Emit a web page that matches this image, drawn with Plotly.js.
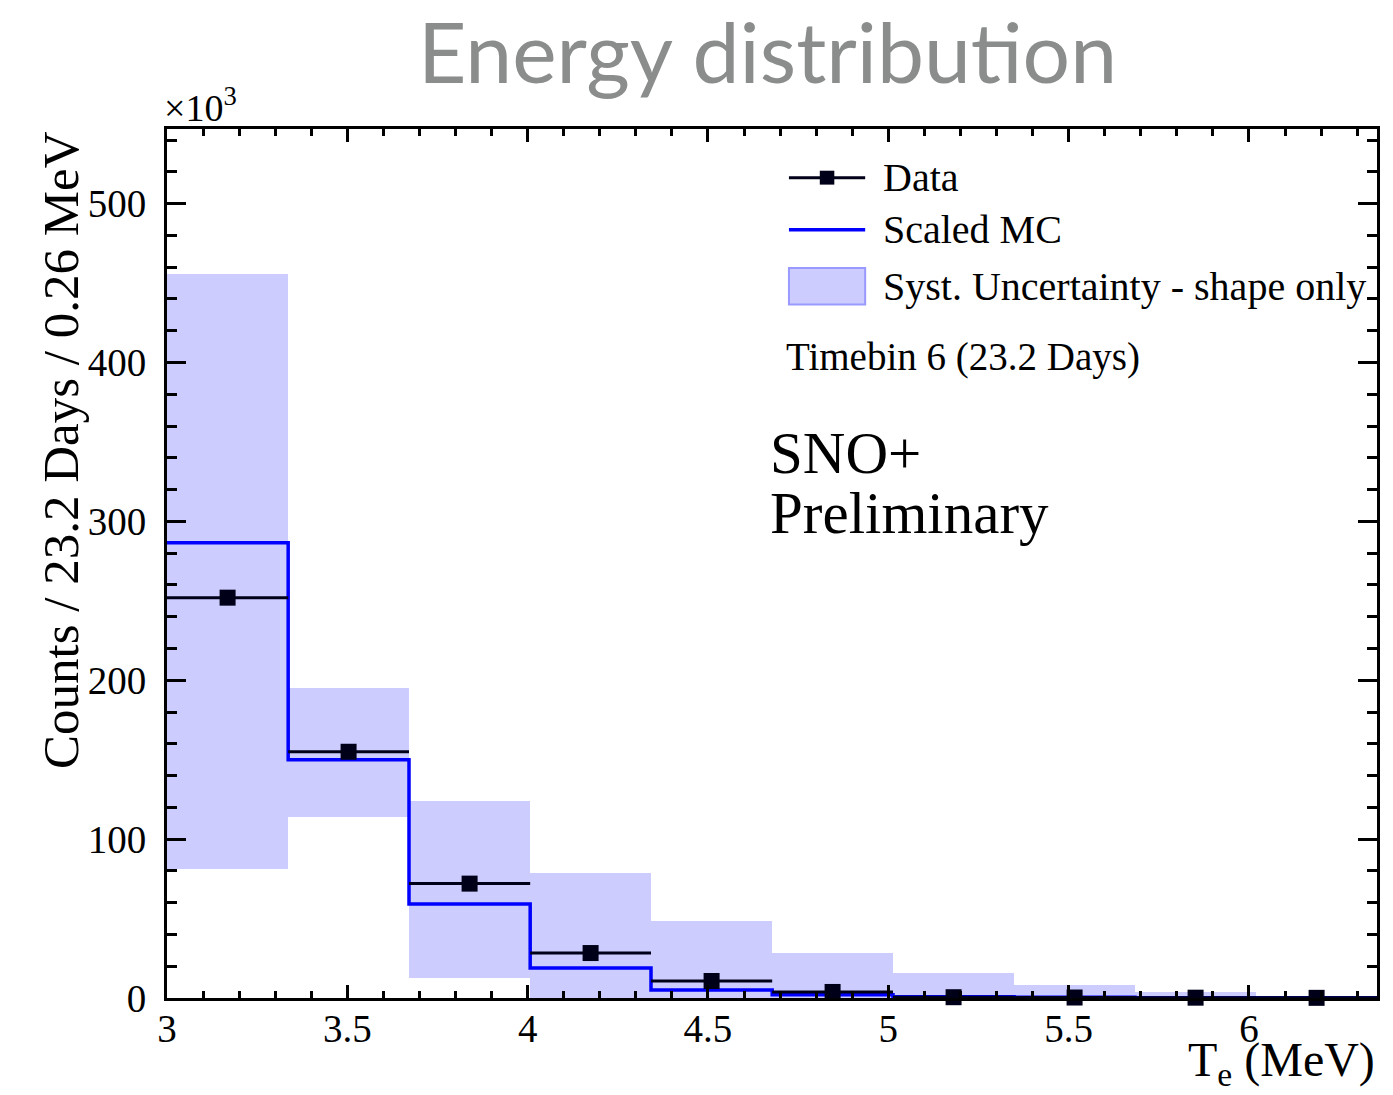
<!DOCTYPE html>
<html>
<head>
<meta charset="utf-8">
<script src="https://cdn.plot.ly/plotly-3.0.1.min.js"></script>
<style>html,body{margin:0;padding:0;background:#fff;}#chart{width:1393px;height:1095px;}text{font-variant-ligatures:none;}</style>
</head>
<body>
<div id="chart"></div>
<script>
// Bin edges (MeV)
const binEdges = [3.0, 3.336, 3.671, 4.007, 4.342, 4.678, 5.013, 5.349, 5.684, 6.020, 6.355];
// Data counts (x10^3)
const dataCounts = [252, 155, 72, 28.3, 10.7, 3.8, 0.5, 0.3, 0.2, 0.1];
// Scaled MC (x10^3)
const mcCounts = [286.5, 150, 59.2, 18.9, 5.0, 2.0, 0.8, 0.4, 0.2, 0.1];
// Systematic band low / high (x10^3)
const systLow  = [81, 114, 12.6, 0, 0, 0, 0, 0, 0, 0];
const systHigh = [456, 195, 124, 78.7, 48.5, 28.5, 16, 8.2, 4, 0.6];
// Tick labels
const xTickVals = [3, 3.5, 4, 4.5, 5, 5.5, 6];
const xTickText = ["3", "3.5", "4", "4.5", "5", "5.5", "6"];
const yTickVals = [0, 100, 200, 300, 400, 500];
const yTickText = ["0", "100", "200", "300", "400", "500"];

const centers = [], widths = [], halfW = [];
for (let i = 0; i < binEdges.length - 1; i++) {
  centers.push((binEdges[i] + binEdges[i+1]) / 2);
  widths.push(binEdges[i+1] - binEdges[i]);
  halfW.push((binEdges[i+1] - binEdges[i]) / 2);
}
const mcStepY = mcCounts.concat([mcCounts[mcCounts.length - 1]]);

const serif = "Liberation Serif, Times New Roman, serif";
const ink = "#000018";

const traces = [
  {
    type: "bar", x: centers, y: systHigh.map((h, i) => h - systLow[i]), base: systLow,
    width: widths, marker: {color: "#ccccff", line: {width: 0}}, name: "Syst. Uncertainty - shape only",
    showlegend: false, hoverinfo: "skip"
  },
  {
    type: "scatter", mode: "lines", x: binEdges, y: mcStepY, line: {shape: "hv", color: "#0000ff", width: 3.5},
    name: "Scaled MC", showlegend: false, cliponaxis: false
  },
  {
    type: "scatter", mode: "markers", x: centers, y: dataCounts,
    marker: {symbol: "square", size: 16, color: ink},
    error_x: {type: "data", array: halfW, visible: true, color: ink, thickness: 3, width: 0},
    name: "Data", showlegend: false, cliponaxis: false
  }
];

const axisCommon = {
  showline: true, linecolor: "#000", linewidth: 3, mirror: "allticks",
  ticks: "inside", tickcolor: "#000", tickwidth: 3, zeroline: false, showgrid: false,
  tickfont: {family: serif, size: 39, color: "#000"}
};

const layout = {
  width: 1393, height: 1095,
  margin: {l: 167, r: 16, t: 129, b: 97},
  paper_bgcolor: "#fff", plot_bgcolor: "#fff",
  showlegend: false, bargap: 0,
  xaxis: Object.assign({}, axisCommon, {
    range: [3, 6.355], tickmode: "array", tickvals: xTickVals, ticktext: xTickText, ticklen: 13,
    minor: {dtick: 0.1, tick0: 3, ticklen: 7, tickwidth: 3, tickcolor: "#000", ticks: "inside"},
    ticklabelstandoff: -6
  }),
  yaxis: Object.assign({}, axisCommon, {
    range: [0, 547], tickmode: "array", tickvals: yTickVals, ticktext: yTickText, ticklen: 19,
    minor: {dtick: 20, tick0: 0, ticklen: 10, tickwidth: 3, tickcolor: "#000", ticks: "inside"},
    ticklabelstandoff: 10
  }),
  title: {
    text: "Energy distribution", x: 0.551, xanchor: "center", y: 0.951, yanchor: "middle",
    font: {family: "Lato, Open Sans, sans-serif", size: 84, color: "#8a8d8c"}
  },
  shapes: [
    // legend: Data
    {type: "line", xref: "paper", yref: "paper", x0: 0.514, x1: 0.577, y0: 0.944, y1: 0.944, line: {color: ink, width: 3}},
    {type: "rect", xref: "paper", yref: "paper", x0: 0.5395, x1: 0.5515, y0: 0.936, y1: 0.952, fillcolor: ink, line: {width: 0}},
    // legend: Scaled MC
    {type: "line", xref: "paper", yref: "paper", x0: 0.514, x1: 0.577, y0: 0.884, y1: 0.884, line: {color: "#0000ff", width: 3.5}},
    // legend: Syst band
    {type: "rect", xref: "paper", yref: "paper", x0: 0.514, x1: 0.577, y0: 0.798, y1: 0.840, fillcolor: "#ccccff", line: {color: "#9999ff", width: 2}}
  ],
  annotations: [
    {xref: "paper", yref: "paper", x: 0.590, y: 0.944, text: "Data", showarrow: false, xanchor: "left", yanchor: "middle", font: {family: serif, size: 40, color: "#000"}},
    {xref: "paper", yref: "paper", x: 0.590, y: 0.884, text: "Scaled MC", showarrow: false, xanchor: "left", yanchor: "middle", font: {family: serif, size: 40, color: "#000"}},
    {xref: "paper", yref: "paper", x: 0.590, y: 0.819, text: "Syst. Uncertainty - shape only", showarrow: false, xanchor: "left", yanchor: "middle", font: {family: serif, size: 40, color: "#000"}},
    {xref: "paper", yref: "paper", x: 0.510, y: 0.738, text: "Timebin 6 (23.2 Days)", showarrow: false, xanchor: "left", yanchor: "middle", font: {family: serif, size: 39, color: "#000"}},
    {xref: "paper", yref: "paper", x: 0.497, y: 0.627, text: "SNO+", showarrow: false, xanchor: "left", yanchor: "middle", font: {family: serif, size: 59, color: "#000"}},
    {xref: "paper", yref: "paper", x: 0.497, y: 0.558, text: "Preliminary", showarrow: false, xanchor: "left", yanchor: "middle", font: {family: serif, size: 59, color: "#000"}},
    {xref: "paper", yref: "paper", x: -0.004, y: 1.0, text: "×10<sup>3</sup>", showarrow: false, xanchor: "left", yanchor: "bottom", yshift: -2, font: {family: serif, size: 38, color: "#000"}},
    {xref: "paper", yref: "paper", x: 1.0, y: 0, text: "T<sub>e</sub> (MeV)", showarrow: false, xanchor: "right", yanchor: "top", yshift: -33, font: {family: serif, size: 48, color: "#000"}},
    {xref: "paper", yref: "paper", x: 0, y: 1.0, text: "Counts / 23.2 Days / 0.26 MeV", showarrow: false, textangle: -90, xanchor: "right", yanchor: "top", xshift: -76, font: {family: serif, size: 51, color: "#000"}}
  ]
};

Plotly.newPlot("chart", traces, layout, {displayModeBar: false, staticPlot: true});
</script>
</body>
</html>
